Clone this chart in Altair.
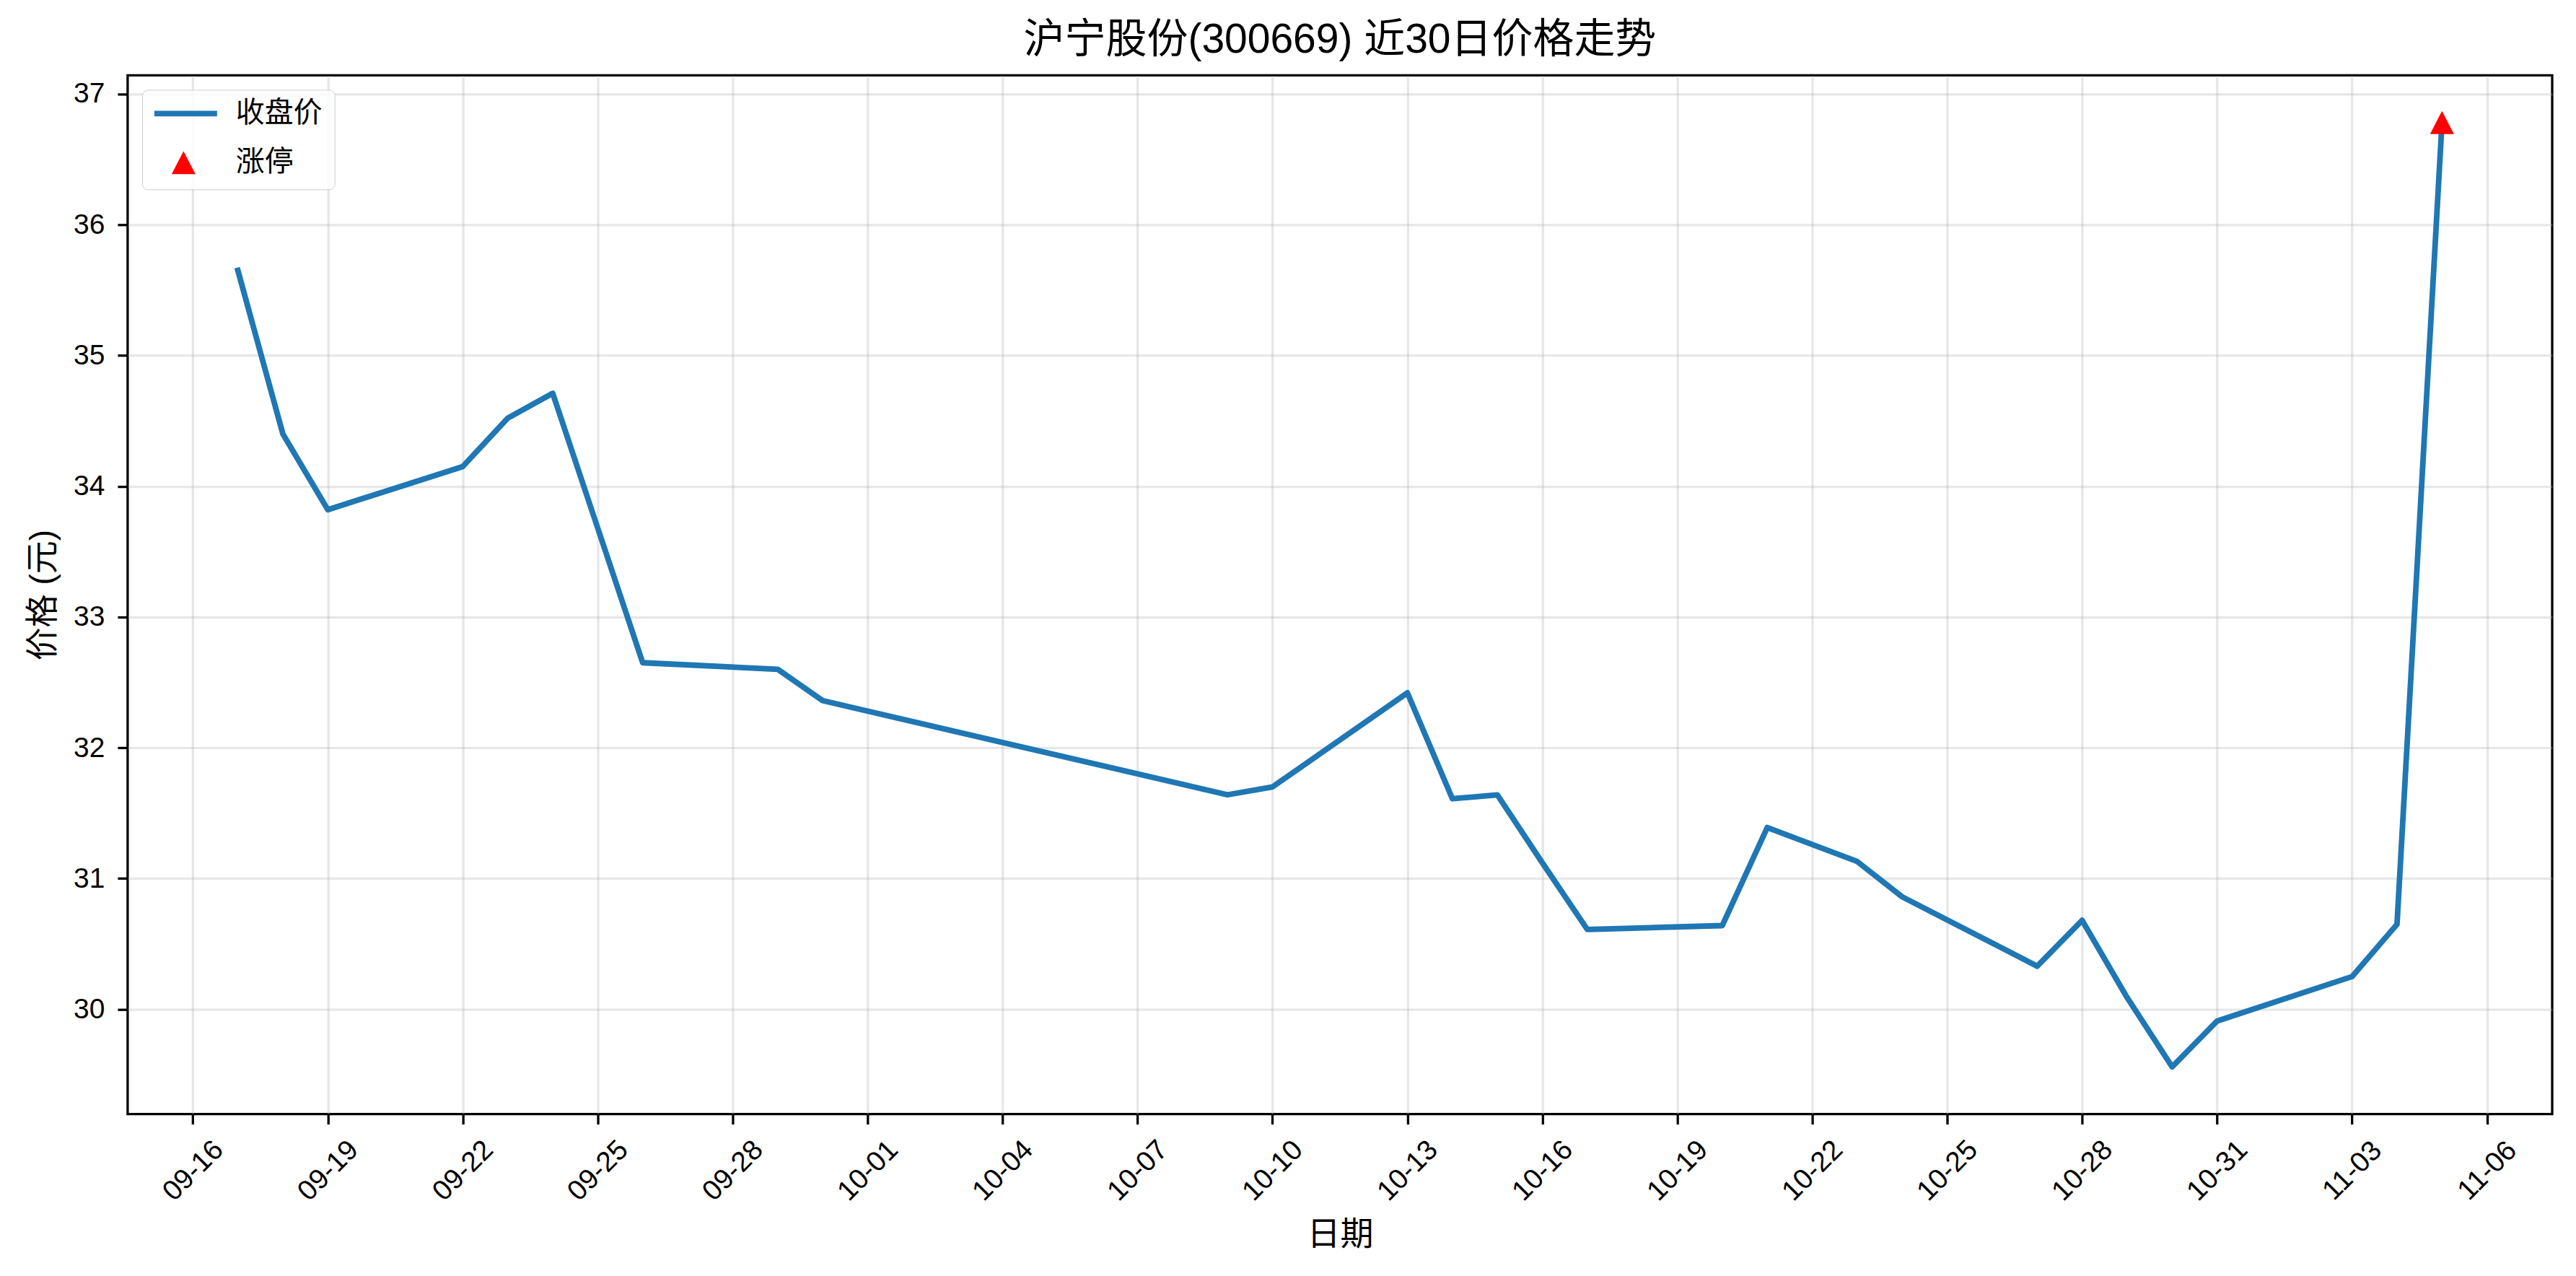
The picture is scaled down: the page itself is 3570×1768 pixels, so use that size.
import altair as alt
import pandas as pd

# ---- data ----
dates = ["2025-09-17", "2025-09-18", "2025-09-19", "2025-09-22", "2025-09-23",
         "2025-09-24", "2025-09-25", "2025-09-26", "2025-09-29", "2025-09-30",
         "2025-10-09", "2025-10-10", "2025-10-13", "2025-10-14", "2025-10-15",
         "2025-10-16", "2025-10-17", "2025-10-20", "2025-10-21", "2025-10-22",
         "2025-10-23", "2025-10-24", "2025-10-27", "2025-10-28", "2025-10-29",
         "2025-10-30", "2025-10-31", "2025-11-03", "2025-11-04", "2025-11-05"]
closes = [35.65, 34.40, 33.82, 34.15, 34.52,
          34.71, 33.68, 32.65, 32.60, 32.36,
          31.64, 31.70, 32.42, 31.61, 31.64,
          31.12, 30.61, 30.64, 31.39, 31.26,
          31.13, 30.86, 30.33, 30.68, 30.09,
          29.56, 29.91, 30.25, 30.65, 36.78]
limit_dates = ["2025-11-05"]
limit_prices = [36.78]
series_names = ["收盘价", "涨停"]
series_colors = ["#1f77b4", "#ff0000"]
x_tick_dates = ["2025-09-16", "2025-09-19", "2025-09-22", "2025-09-25", "2025-09-28",
                "2025-10-01", "2025-10-04", "2025-10-07", "2025-10-10", "2025-10-13",
                "2025-10-16", "2025-10-19", "2025-10-22", "2025-10-25", "2025-10-28",
                "2025-10-31", "2025-11-03", "2025-11-06"]
y_ticks = [30, 31, 32, 33, 34, 35, 36, 37]
title_text = "沪宁股份(300669) 近30日价格走势"
x_title = "日期"
y_title = "价格 (元)"

FONT = "'Liberation Sans', 'Noto Sans CJK SC', sans-serif"


def dt(s, hours=0, minutes=0):
    y, m, d = (int(v) for v in s.split("-"))
    return alt.DateTime(year=y, month=m, date=d, hours=hours, minutes=minutes)


df_line = pd.DataFrame({"date": [d + "T00:00:00" for d in dates], "close": closes})
df_pts = pd.DataFrame({"date": [d + "T00:00:00" for d in limit_dates],
                       "close": limit_prices,
                       "series": [series_names[1]] * len(limit_dates)})

x_scale = alt.Scale(domain=[dt("2025-09-14", 13, 12), dt("2025-11-07", 10, 48)])
y_scale = alt.Scale(domain=[29.199, 37.141], nice=False, zero=False)

x_axis = alt.Axis(values=[dt(s) for s in x_tick_dates], format="%m-%d", title=x_title,
                  labelAngle=-45, labelAlign="center", labelBaseline="middle",
                  labelPadding=64, labelOverlap=False, labelBound=False, labelFlush=False,
                  titleX=1681, titleY=181, titleBaseline="alphabetic", titleAlign="center")
y_axis = alt.Axis(values=y_ticks, format="d", title=y_title, labelPadding=18,
                  titleX=-117, titleY=720, titleBaseline="middle", titleAlign="center",
                  titleAngle=270)

# legend symbols: a line handle and a triangle (unit-square SVG paths)
line_path = "M-1,-0.084L1,-0.084L1,0.084L-1,0.084Z"
tri_path = "M0,-0.344L0.355,0.344L-0.355,0.344Z"

legend = alt.Legend(title=None, orient="top-left", offset=20, padding=17,
                    fillColor="rgba(255,255,255,0.8)", strokeColor="#cccccc",
                    cornerRadius=8, symbolSize=8649, symbolStrokeWidth=0,
                    symbolOffset=-6, labelOffset=26, clipHeight=32, rowPadding=28,
                    labelFont=FONT, labelFontSize=40, labelColor="black", labelLimit=0)

line = alt.Chart(df_line).mark_line(
    color=series_colors[0], strokeWidth=7.8, strokeJoin="round", strokeCap="square"
).encode(
    x=alt.X("date:T", scale=x_scale, axis=x_axis),
    y=alt.Y("close:Q", scale=y_scale, axis=y_axis),
)

pts = alt.Chart(df_pts).mark_point(filled=True, size=8649, opacity=1).encode(
    x=alt.X("date:T", scale=x_scale),
    y=alt.Y("close:Q", scale=y_scale),
    color=alt.Color("series:N", scale=alt.Scale(domain=series_names, range=series_colors),
                    legend=legend),
    shape=alt.Shape("series:N", scale=alt.Scale(domain=series_names, range=[line_path, tri_path]),
                    legend=legend),
)

chart = alt.layer(line, pts).properties(
    width=3362, height=1440,
    title=alt.TitleParams(text=title_text, frame="group", anchor="middle"),
    padding={"left": 169, "top": 96, "right": 25, "bottom": 200},
    autosize=alt.AutoSizeParams(type="none"),
).configure_view(
    stroke="black", strokeWidth=3.3
).configure_axis(
    domain=False, tickColor="black", tickWidth=3.3, tickSize=14,
    labelColor="black", labelFont=FONT, labelFontSize=39,
    titleFont=FONT, titleFontSize=46, titleFontWeight="normal", titleColor="black",
    gridColor="#b0b0b0", gridOpacity=0.3, gridWidth=3.3,
).configure_title(
    font=FONT, fontSize=57, fontWeight="normal", color="black", offset=19,
    baseline="alphabetic"
)

chart.save("out.html", embed_options={"renderer": "svg", "actions": False})
